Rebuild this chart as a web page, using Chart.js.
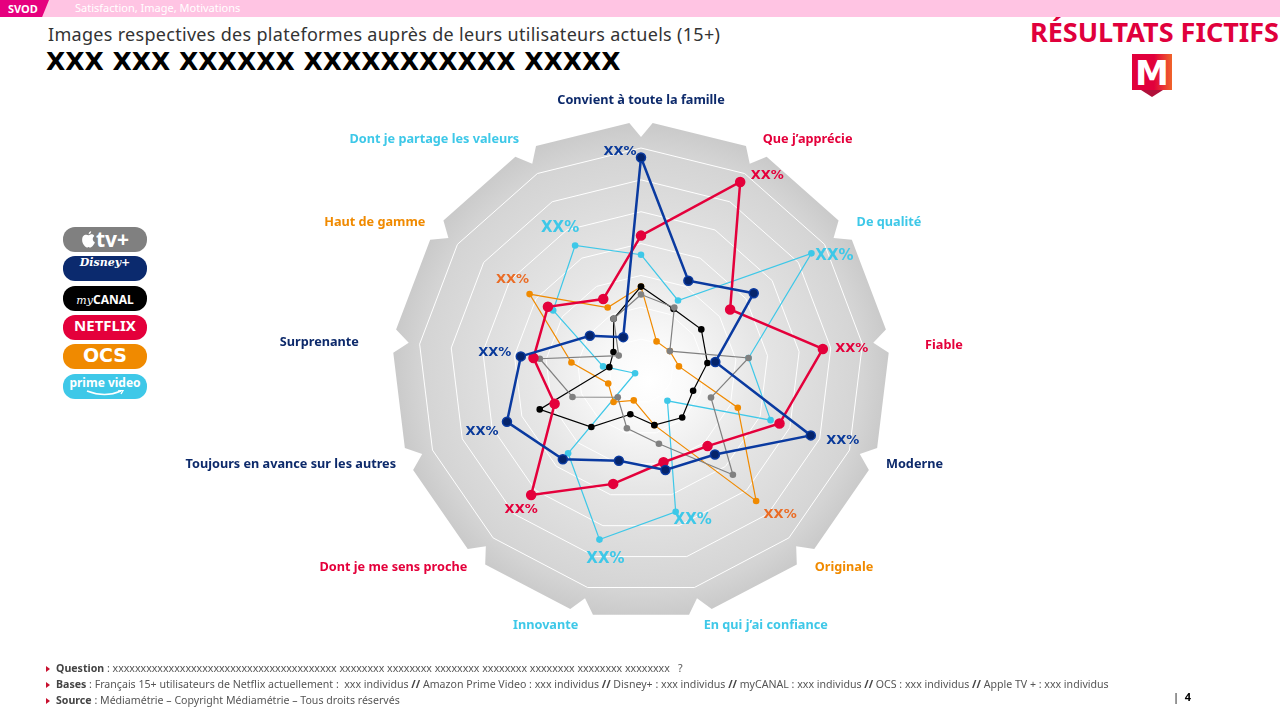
<!DOCTYPE html>
<html lang="fr">
<head>
<meta charset="utf-8">
<title>Images respectives des plateformes</title>
<script src="https://cdn.jsdelivr.net/npm/chart.js@4.4.0/dist/chart.umd.min.js"></script>
<style>
  body { margin: 0; background: #fff; }
  #page { position: relative; width: 1280px; height: 720px; overflow: hidden; font-family: "Noto Sans", sans-serif; }
  #radar { position: absolute; left: 0; top: 0; }
  .band { position: absolute; left: 0; top: 0; width: 1280px; height: 17px; background: #ffc4e3; }
  .tag { position: absolute; left: 0; top: 0; width: 49px; height: 17px; background: #e6007e;
         clip-path: polygon(0 0, 100% 0, 86% 100%, 0 100%); color: #fff; font: bold 11px "Noto Sans", sans-serif; line-height: 17px; padding-left: 8px; box-sizing: border-box; }
  .rubrique { position: absolute; left: 75px; top: 0; color: #fff; font: 11px "Noto Sans", sans-serif; line-height: 16px; }
  .titre { position: absolute; left: 48px; top: 22px; color: #333; font: 18px "Noto Sans", sans-serif; letter-spacing: 0.3px; }
  .sous-titre { position: absolute; left: 46px; top: 47px; color: #000; font: bold 25px "DejaVu Sans", sans-serif; }
  .fictif { position: absolute; right: 1px; top: 13px; color: #e0003c; font: bold 27px "Noto Sans", sans-serif; }
  .logo { position: absolute; left: 1132px; top: 54px; width: 40px; height: 36px; background: linear-gradient(90deg, #e1003c 55%, #f0642a 100%);
          color: #fff; font: bold 34px "DejaVu Sans", sans-serif; text-align: center; line-height: 38px; overflow: hidden; }
  .logo-pointe { position: absolute; left: 1141px; top: 90px; width: 0; height: 0; border-left: 11px solid transparent; border-right: 11px solid transparent; border-top: 7px solid #b0103a; }
  .pill { position: absolute; left: 63px; width: 84px; height: 25px; border-radius: 12px; color: #fff; text-align: center; line-height: 25px; white-space: nowrap; }
  .notes { position: absolute; left: 46px; top: 660px; color: #555; font: 10.6px "Liberation Sans Narrow", "Noto Sans", sans-serif; line-height: 16px; }
  .notes div::before { content: ""; display: inline-block; width: 0; height: 0; border-top: 3.5px solid transparent; border-bottom: 3.5px solid transparent; border-left: 4px solid #c8102e; margin-right: 6px; }
  .notes b { color: #444; }
  .page-num { position: absolute; left: 1173px; top: 689px; font: 11px "Noto Sans", sans-serif; color: #000; }
</style>
</head>
<body>
<div id="page">
  <div class="band"></div>
  <div class="tag">SVOD</div>
  <div class="rubrique">Satisfaction, Image, Motivations</div>
  <div class="titre">Images respectives des plateformes auprès de leurs utilisateurs actuels (15+)</div>
  <div class="sous-titre">XXX XXX XXXXXX XXXXXXXXXXX XXXXX</div>
  <div class="fictif">RÉSULTATS FICTIFS</div>
  <div class="logo">M</div>
  <div class="logo-pointe"></div>

  <div class="pill" style="top:227px;background:#808080;font:bold 21px 'Noto Sans',sans-serif;line-height:25px;">
    <svg width="15" height="17" viewBox="0 0 14 16" style="vertical-align:-1px"><path d="M7 4C5 3 1 3 1 8.5C1 12 4 15.5 5.5 15.5C6.5 15.5 6.8 15 7 15C7.2 15 7.5 15.5 8.5 15.5C10 15.5 12.5 12.5 13 10.5C11.5 9.8 11 8.5 11 7.5C11 6 12 5 12.5 4.6C11.5 3.3 10 3 9 3.2C8 3.4 7.5 4 7 4ZM7.2 3C7 1.8 8 0.5 9.5 0.3C9.6 1.7 8.6 2.9 7.2 3Z" fill="#fff"/></svg>tv+
  </div>
  <div class="pill" style="top:256px;background:#0b2a6e;font:italic bold 11px 'DejaVu Serif',serif;">Disney+</div>
  <div class="pill" style="top:286px;background:#000;"><span style="font:italic 11px 'DejaVu Serif',serif;">my</span><span style="font:bold 12px 'Noto Sans',sans-serif;">CANAL</span></div>
  <div class="pill" style="top:315px;background:#e4003b;font:bold 15px 'Liberation Sans Narrow','Noto Sans',sans-serif;">NETFLIX</div>
  <div class="pill" style="top:344px;background:#f08a00;font:900 19px 'DejaVu Sans',sans-serif;">OCS</div>
  <div class="pill" style="top:374px;background:#3ec8e8;font:bold 12px 'Noto Sans',sans-serif;line-height:18px;">prime video
    <svg width="40" height="6" viewBox="0 0 40 6" style="position:absolute;left:22px;top:16px"><path d="M2 1Q20 8 36 1" stroke="#fff" stroke-width="1.6" fill="none"/><path d="M33 0L38 0.5L36 4" stroke="#fff" stroke-width="1.4" fill="none"/></svg>
  </div>

  <canvas id="radar" width="1280" height="720"></canvas>

  <div class="notes">
    <div><b>Question</b> : xxxxxxxxxxxxxxxxxxxxxxxxxxxxxxxxxxxxxxxx xxxxxxxx xxxxxxxx xxxxxxxx xxxxxxxx xxxxxxxx xxxxxxxx xxxxxxxx &nbsp; ?</div>
    <div><b>Bases</b> : Français 15+ utilisateurs de Netflix actuellement : &nbsp;xxx individus <b>//</b> Amazon Prime Video : xxx individus <b>//</b> Disney+ : xxx individus <b>//</b> myCANAL : xxx individus <b>//</b> OCS : xxx individus <b>//</b> Apple TV + : xxx individus</div>
    <div><b>Source</b> : Médiamétrie – Copyright Médiamétrie – Tous droits réservés</div>
  </div>
  <div class="page-num">|&nbsp;&nbsp;<b>4</b></div>
</div>

<script>
// Axes du radar (sens horaire depuis le haut)
const categories = [
  'Convient à toute la famille', 'Que j’apprécie', 'De qualité', 'Fiable', 'Moderne',
  'Originale', 'En qui j’ai confiance', 'Innovante', 'Dont je me sens proche',
  'Toujours en avance sur les autres', 'Surprenante', 'Haut de gamme', 'Dont je partage les valeurs'
];

// Valeurs (%)
const disneyPlus = [67, 32, 43, 23.5, 57, 35, 32, 29, 37, 45, 38, 19.5, 12];
const netflix    = [42.5, 67, 34, 57.5, 46.5, 31.5, 29.5, 36.5, 52, 29, 34, 35.5, 25.5];
const appleTv    = [24, 22.5, 11, 34, 23.5, 43.5, 23.5, 18.5, 11, 23, 32, 8.5, 18.5];
const myCanal    = [26.5, 22, 23, 21, 17.5, 19.5, 17.5, 14, 23.5, 34, 10, 10.5, 18.5];
const ocs        = [26.5, 10.5, 11, 12, 32.5, 54.5, 17.5, 9.5, 13, 11, 22, 42.5, 22.5];
const primeVideo = [36.5, 25, 65, 34, 43.5, 12.5, 45.5, 54.5, 34.5, 2, 12, 33.5, 44.5];

// Echelle : 7 anneaux de 10 points
const scaleMax = 70;
const scaleStep = 10;

// Texte affiché sur la plateforme en tête de chaque item
const leaderText = 'XX%';
// Décalage (px) de l'étiquette XX% par rapport au point, item par item
const leaderOffsets = [[-21, -6], [27, -6], [23, 3], [29, 0], [32, 5], [24, 14], [17, 8],
                       [6, 20], [-10, 15], [-25, 10], [-26, -4], [-17, -14], [-15, -17]];

// Fond gris "engrenage" + dégradé, dessiné avant la grille
const fondRadar = {
  id: 'fondRadar',
  beforeDraw(chart) {
    const scale = chart.scales.r;
    const ctx = chart.ctx;
    const n = categories.length;
    const rv = 251, tip = 234, u = 0.1;
    const cx = scale.xCenter, cy = scale.yCenter;
    const v = [];
    for (let k = 0; k < n; k++) v.push(scale.getPointPosition(k, rv));
    ctx.save();
    ctx.beginPath();
    for (let k = 0; k < n; k++) {
      const prev = v[(k + n - 1) % n], cur = v[k], next = v[(k + 1) % n];
      const t = scale.getPointPosition(k, tip);
      const a = { x: cur.x + (prev.x - cur.x) * u, y: cur.y + (prev.y - cur.y) * u };
      const b = { x: cur.x + (next.x - cur.x) * u, y: cur.y + (next.y - cur.y) * u };
      if (k === 0) ctx.moveTo(a.x, a.y); else ctx.lineTo(a.x, a.y);
      ctx.lineTo(t.x, t.y);
      ctx.lineTo(b.x, b.y);
    }
    ctx.closePath();
    const g = ctx.createRadialGradient(cx + 8, cy + 10, 0, cx, cy, rv);
    g.addColorStop(0, '#ffffff');
    g.addColorStop(0.15, '#fafafa');
    g.addColorStop(0.45, '#e6e6e6');
    g.addColorStop(0.88, '#d4d4d4');
    g.addColorStop(1, '#c8c8c8');
    ctx.fillStyle = g;
    ctx.fill();
    ctx.restore();
  }
};

// Etiquettes XX% et libellés des items, couleur de la plateforme en tête
const etiquettes = {
  id: 'etiquettes',
  afterDraw(chart) {
    const scale = chart.scales.r;
    const ctx = chart.ctx;
    const sets = chart.data.datasets;
    ctx.save();
    categories.forEach((cat, i) => {
      let best = 0;
      sets.forEach((ds, d) => { if (ds.data[i] > sets[best].data[i]) best = d; });
      const ds = sets[best];
      const pt = chart.getDatasetMeta(best).data[i];
      ctx.fillStyle = ds.xxColor;
      ctx.font = 'bold ' + ds.xxSize + 'px "DejaVu Sans", sans-serif';
      ctx.textAlign = 'center';
      ctx.textBaseline = 'middle';
      ctx.fillText(leaderText, pt.x + leaderOffsets[i][0], pt.y + leaderOffsets[i][1]);

      // libellé de l'item
      const p = scale.getPointPosition(i, i === 0 ? 271 : 262);
      let x = p.x, y = p.y;
      const s = Math.sin(p.angle), c = Math.cos(p.angle);
      if (Math.abs(s) < 0.2) { x += c > 0 ? 24 : -22; y += c > 0 ? 6 : 3; }
      ctx.fillStyle = ds.catColor;
      ctx.font = 'bold 12.7px "Noto Sans", sans-serif';
      ctx.textAlign = Math.abs(c) < 0.05 ? 'center' : (c > 0 ? 'left' : 'right');
      ctx.fillText(cat, x, y);
    });
    ctx.restore();
  }
};

function serie(label, data, color, thick, extra) {
  return Object.assign({
    label: label,
    data: data,
    borderColor: color,
    backgroundColor: color,
    pointBackgroundColor: color,
    pointBorderColor: color,
    borderWidth: thick ? 2.5 : 1.2,
    pointRadius: thick ? 4.5 : 3.3,
    pointBorderWidth: thick ? 1.5 : 0,
    fill: false,
    tension: 0
  }, extra);
}

const chart = new Chart(document.getElementById('radar'), {
  type: 'radar',
  data: {
    labels: categories,
    datasets: [
      serie('Disney+', disneyPlus, '#0a3aa0', true, { pointBackgroundColor: '#05246b', pointBorderColor: '#0a3aa0', xxColor: '#0a3a9a', xxSize: 13, catColor: '#0d2a6b' }),
      serie('Netflix', netflix, '#e4003b', true, { xxColor: '#e4003b', xxSize: 13, catColor: '#e4003b' }),
      serie('Apple TV+', appleTv, '#808080', false, { xxColor: '#808080', xxSize: 13, catColor: '#808080' }),
      serie('myCANAL', myCanal, '#000000', false, { xxColor: '#000000', xxSize: 13, catColor: '#000000' }),
      serie('OCS', ocs, '#f08a00', false, { xxColor: '#ea6c25', xxSize: 13, catColor: '#f08a00' }),
      serie('Prime Video', primeVideo, '#3ec8e8', false, { xxColor: '#3ec8e8', xxSize: 15, catColor: '#3ec8e8' })
    ]
  },
  options: {
    responsive: false,
    animation: false,
    layout: { padding: { left: 418, right: 416, top: 148, bottom: 126 } },
    plugins: {
      legend: { display: false },
      tooltip: { enabled: false }
    },
    scales: {
      r: {
        min: 0,
        max: scaleMax,
        ticks: { display: false, stepSize: scaleStep },
        grid: { color: '#ffffff', lineWidth: 1 },
        angleLines: { display: false },
        pointLabels: { display: false }
      }
    }
  },
  plugins: [fondRadar, etiquettes]
});
</script>
</body>
</html>
